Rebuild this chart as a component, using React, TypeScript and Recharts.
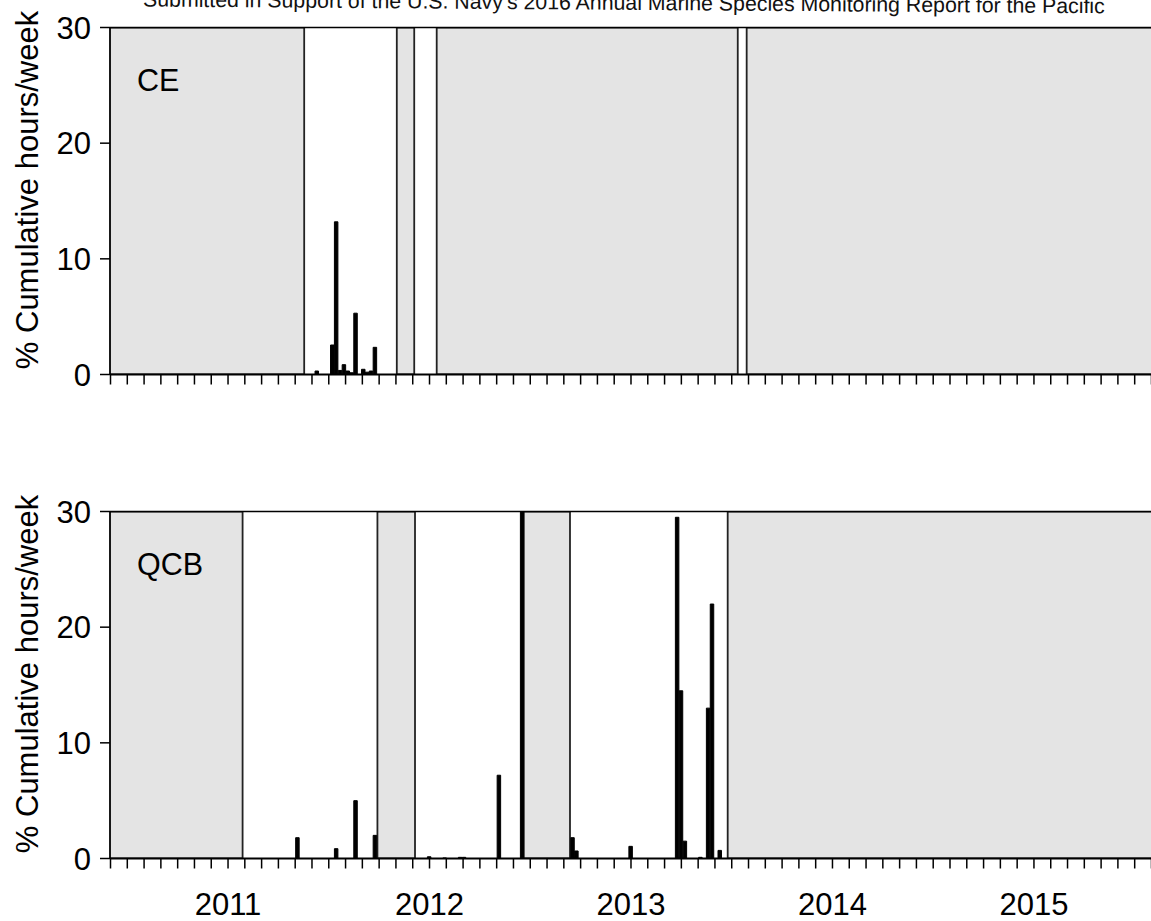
import React from 'react';
import { BarChart, Bar, XAxis, YAxis, ReferenceArea, ReferenceLine } from 'recharts';

const FONT = '"Liberation Sans", Arial, Helvetica, sans-serif';

// weekly bins, counted from the first monthly tick (Dec 2010)
const ceWeeks = [53, 57, 58, 59, 60, 61, 62, 63, 65, 66, 67, 68];
const ceValues = [0.3, 2.55, 13.2, 0.35, 0.85, 0.3, 0.15, 5.3, 0.45, 0.2, 0.3, 2.35];
// periods without recording effort (grey), in weeks
const ceNoEffort = [
  [-1, 49.7],
  [73.6, 78.1],
  [83.9, 161.6],
  [163.9, 270],
];

const qcbWeeks = [48, 58, 63, 68, 82, 86, 90, 91, 100, 106, 119, 120, 134, 146, 147, 148, 152, 154, 155, 157];
const qcbValues = [1.8, 0.85, 5.0, 2.0, 0.15, 0.05, 0.1, 0.1, 7.2, 30, 1.8, 0.65, 1.05, 29.5, 14.5, 1.5, 0.1, 13.0, 22.0, 0.7];
const qcbNoEffort = [
  [-1, 33.8],
  [68.6, 78.3],
  [106.3, 118.3],
  [159.0, 270],
];

const yearLabels = ['2011', '2012', '2013', '2014', '2015'];
const yTicks = [0, 10, 20, 30];

const HEADER = "Submitted in Support of the U.S. Navy's 2016 Annual Marine Species Monitoring Report for the Pacific";

const WEEKS_PER_MONTH = 52 / 12;
const FIRST_TICK_WEEK = -0.29;
const MONTH_COUNT = 63;
const FIRST_LABEL_MONTH = 7;
const monthTicks = Array.from({ length: MONTH_COUNT }, (_, k) => FIRST_TICK_WEEK + k * WEEKS_PER_MONTH);
const X_DOMAIN = [-0.42, 268.77];

const yearFormatter = (_v: number, i: number) => {
  const k = i - FIRST_LABEL_MONTH;
  if (k >= 0 && k % 12 === 0) return yearLabels[k / 12] ?? '';
  return '';
};

type PanelProps = {
  name: string;
  weeks: number[];
  values: number[];
  gaps: number[][];
  showYears: boolean;
  top: number;
};

const Panel = ({ name, weeks, values, gaps, showYears, top }: PanelProps) => {
  const data = weeks.map((w, i) => ({ week: w, value: values[i] }));
  const axisHeight = showYears ? 62 : 20;
  const plotTop = 27.5;
  const plotHeight = 347;

  const leftLabel = (props: any) => {
    const vb = props.viewBox || { x: 0, y: plotTop, width: 110, height: plotHeight };
    const cy = vb.y + vb.height / 2 - 11;
    return (
      <g>
        <text
          x={38}
          y={cy}
          transform={`rotate(-90, 38, ${cy})`}
          textAnchor="middle"
          fontSize={31}
          fontFamily={FONT}
          fill="#000"
        >
          % Cumulative hours/week
        </text>
        <text x={137} y={vb.y + 63} fontSize={30.5} fontFamily={FONT} fill="#000">
          {name}
        </text>
      </g>
    );
  };

  return (
    <div style={{ position: 'absolute', left: 0, top }}>
      <BarChart
        width={1153}
        height={plotTop + plotHeight + axisHeight}
        data={data}
        margin={{ top: plotTop, right: 0, bottom: 0, left: 0 }}
      >
        {gaps.map(([a, b], i) => (
          <ReferenceArea
            key={i}
            x1={a}
            x2={b}
            y1={0}
            y2={30}
            ifOverflow="hidden"
            fill="#e4e4e4"
            fillOpacity={1}
            stroke="#222"
            strokeWidth={1.8}
          />
        ))}
        <ReferenceLine y={30} stroke="#000" strokeWidth={1.6} />
        <XAxis
          dataKey="week"
          type="number"
          domain={X_DOMAIN}
          allowDataOverflow
          ticks={monthTicks}
          interval={0}
          height={axisHeight}
          tickSize={10}
          tickMargin={24}
          tickFormatter={showYears ? yearFormatter : () => ''}
          tick={{ fontSize: 31, fontFamily: FONT, fill: '#000' }}
          axisLine={{ stroke: '#000', strokeWidth: 1.8 }}
          tickLine={{ stroke: '#000', strokeWidth: 1.5 }}
        />
        <YAxis
          type="number"
          domain={[0, 30]}
          allowDataOverflow
          ticks={yTicks}
          interval={0}
          width={110}
          tickSize={10}
          tickMargin={9}
          tick={{ fontSize: 31, fontFamily: FONT, fill: '#000' }}
          axisLine={{ stroke: '#000', strokeWidth: 1.8 }}
          tickLine={{ stroke: '#000', strokeWidth: 1.5 }}
          label={leftLabel}
        />
        <Bar
          dataKey="value"
          fill="#000"
          stroke="#000"
          strokeWidth={1}
          barSize={4}
          isAnimationActive={false}
        />
      </BarChart>
    </div>
  );
};

export default function App() {
  return (
    <div
      style={{
        position: 'absolute',
        left: 0,
        top: 0,
        width: 1151,
        height: 921,
        overflow: 'hidden',
        background: '#fff',
      }}
    >
      <svg width={1151} height={40} style={{ position: 'absolute', left: 0, top: 0 }}>
        <text
          x={143}
          y={6.5}
          transform="rotate(0.4, 143, 6.5)"
          fontSize={21.3}
          fontFamily={FONT}
          fill="#111"
        >
          {HEADER}
        </text>
      </svg>
      <Panel name="CE" weeks={ceWeeks} values={ceValues} gaps={ceNoEffort} showYears={false} top={0} />
      <Panel name="QCB" weeks={qcbWeeks} values={qcbValues} gaps={qcbNoEffort} showYears top={484} />
    </div>
  );
}
